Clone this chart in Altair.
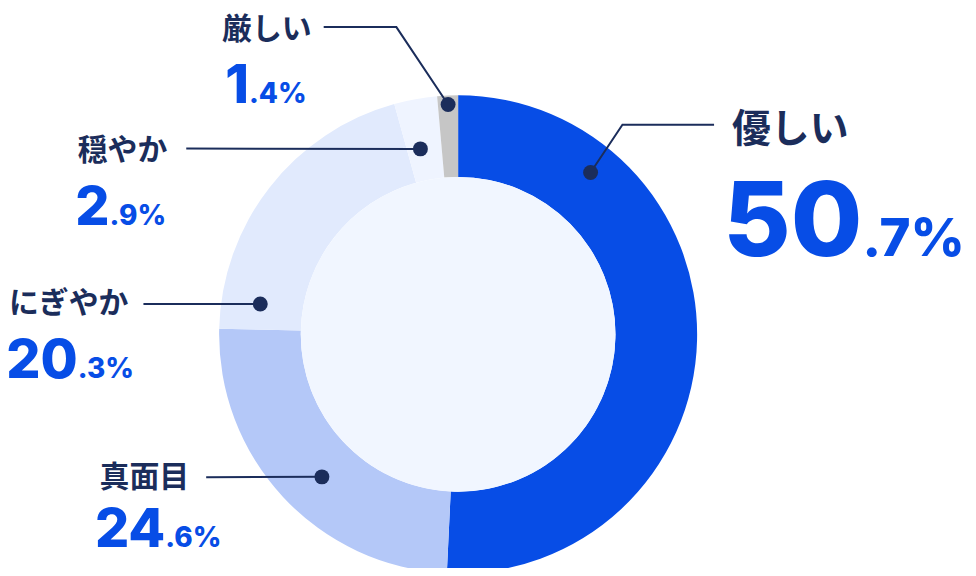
import math
import altair as alt
import pandas as pd

# ---------------- data ----------------
categories = ["優しい", "真面目", "にぎやか", "穏やか", "厳しい"]
shares = [50.7, 24.6, 20.3, 2.9, 1.4]

# ---------------- styles ----------------
slice_colors = ["#074de6", "#b4c8f8", "#e1eafd", "#eff4ff", "#c6c6c6"]
NAVY = "#1b2d5b"
BLUE = "#074de6"
INNER = "#f1f6ff"
NUM_FONT = "Inter"
JP_FONT = "Noto Sans CJK JP"

# ---------------- layout (page pixel coordinates) ----------------
CX, CY = 460, 334.5
R_OUT, R_IN = 240, 158
anchor_angle = [39.3, 223.7, 278.7, 348.5, 357.5]
anchor_radius = [210, 198, 201, 190, 231]
elbows = [(625, 124), None, None, None, (398, 26)]
line_end = [(717, 124), (207, 478), (144, 304), (187, 148), (325, 26)]
name_pos = [(735, 129), (100, 479), (9, 304), (78, 150), (223, 29)]
name_size = [39, 30, 30, 30, 30]
num_pos = [(866, 256), (166, 548), (78, 378), (110, 225), (250, 102)]
big_size = [104, 54, 54, 54, 54]
small_size = [53, 28, 28, 28, 28]

W, H = 964, 560
OFF = 8

slices = pd.DataFrame({
    "category": categories,
    "share": shares,
    "idx": list(range(len(categories))),
})

anchors = []
lines = []
labels = []
for i, c in enumerate(categories):
    a = math.radians(anchor_angle[i])
    ax = CX + anchor_radius[i] * math.sin(a)
    ay = CY - anchor_radius[i] * math.cos(a)
    anchors.append({"category": c, "x": ax, "y": ay})
    pts = [(ax, ay)]
    if elbows[i] is not None:
        pts.append(elbows[i])
    pts.append(line_end[i])
    for k, (px, py) in enumerate(pts):
        lines.append({"category": c, "seq": k, "x": px, "y": py})
    whole, frac = f"{shares[i]:.1f}".split(".")
    labels.append({
        "category": c,
        "nx": name_pos[i][0], "ny": name_pos[i][1], "nfs": name_size[i],
        "vx": num_pos[i][0], "vy": num_pos[i][1],
        "big": whole, "small": "." + frac + "%",
        "bfs": big_size[i], "sfs": small_size[i],
    })

anchors = pd.DataFrame(anchors)
lines = pd.DataFrame(lines)
labels = pd.DataFrame(labels)

xs = alt.Scale(domain=[OFF, OFF + W], nice=False, zero=False)
ys = alt.Scale(domain=[OFF, OFF + H], nice=False, zero=False, reverse=True)

donut = alt.Chart(slices).mark_arc(outerRadius=R_OUT, innerRadius=R_IN).encode(
    theta=alt.Theta("share:Q", stack=True),
    color=alt.Color("category:N", scale=alt.Scale(domain=categories, range=slice_colors), legend=None),
    order=alt.Order("idx:Q"),
    x=alt.value(CX - OFF),
    y=alt.value(CY - OFF),
)

inner = alt.Chart(pd.DataFrame({"k": [1]})).mark_circle(
    color=INNER, opacity=1, size=4 * R_IN ** 2
).encode(x=alt.value(CX - OFF), y=alt.value(CY - OFF))

leader = alt.Chart(lines).mark_line(color=NAVY, strokeWidth=2).encode(
    x=alt.X("x:Q", scale=xs, axis=None),
    y=alt.Y("y:Q", scale=ys, axis=None),
    detail="category:N",
    order="seq:Q",
)

dots = alt.Chart(anchors).mark_circle(color=NAVY, opacity=1, size=225).encode(
    x=alt.X("x:Q", scale=xs, axis=None),
    y=alt.Y("y:Q", scale=ys, axis=None),
)

names = alt.Chart(labels).mark_text(
    align="left", baseline="middle", font=JP_FONT, fontWeight="bold", color=NAVY
).encode(
    x=alt.X("nx:Q", scale=xs, axis=None),
    y=alt.Y("ny:Q", scale=ys, axis=None),
    text="category:N",
    size=alt.Size("nfs:Q", scale=None),
)

big = alt.Chart(labels).mark_text(
    align="right", baseline="alphabetic", font=NUM_FONT, fontWeight=800, color=BLUE
).encode(
    x=alt.X("vx:Q", scale=xs, axis=None),
    y=alt.Y("vy:Q", scale=ys, axis=None),
    text="big:N",
    size=alt.Size("bfs:Q", scale=None),
)

small = alt.Chart(labels).mark_text(
    align="left", baseline="alphabetic", font=NUM_FONT, fontWeight=800, color=BLUE
).encode(
    x=alt.X("vx:Q", scale=xs, axis=None),
    y=alt.Y("vy:Q", scale=ys, axis=None),
    text="small:N",
    size=alt.Size("sfs:Q", scale=None),
)

chart = alt.layer(donut, inner, leader, dots, names, big, small).properties(
    width=W, height=H, padding=0,
    autosize=alt.AutoSizeParams(type="none"),
    background="white",
).configure_view(stroke=None)

chart.save("out.html", embed_options={"renderer": "svg", "actions": False})
